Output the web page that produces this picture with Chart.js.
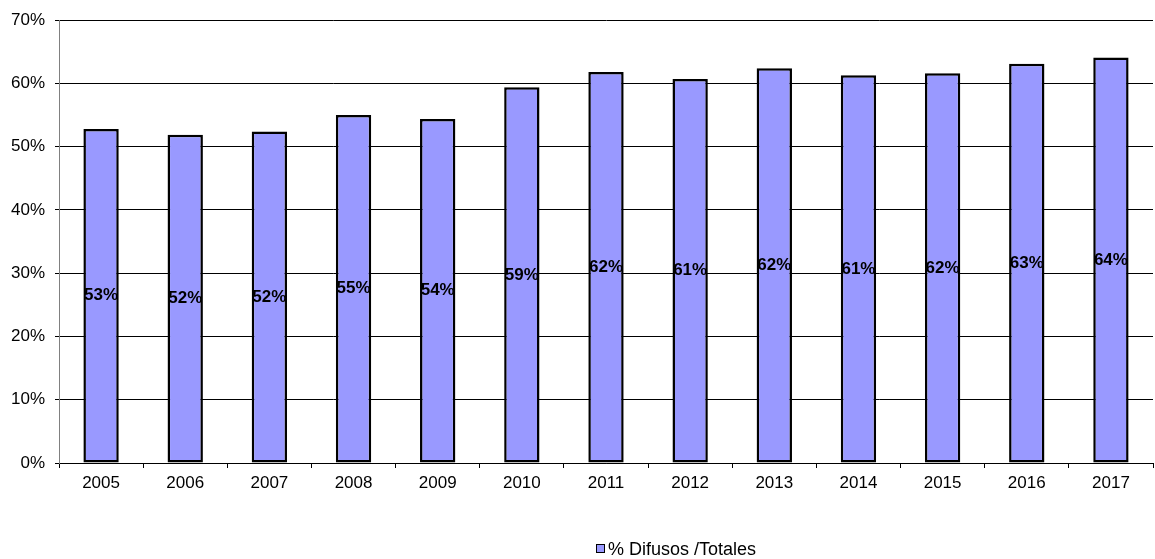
<!DOCTYPE html>
<html>
<head>
<meta charset="utf-8">
<script src="https://cdn.jsdelivr.net/npm/chart.js@4"></script>
<style>
  html, body { margin: 0; padding: 0; background: #fff; }
  #wrap { position: relative; width: 1155px; height: 559px; }
  #legend { position: absolute; left: 596px; top: 539px; font: 18px "Liberation Sans", Arial, sans-serif; color: #000; white-space: nowrap; }
  #legend span.box { display: inline-block; width: 7px; height: 7px; background: #9999ff; border: 1px solid #000; margin-right: 3px; vertical-align: 2px; }
</style>
</head>
<body>
<div id="wrap">
  <canvas id="chartDifusos" width="1155" height="559"></canvas>
  <div id="legend"><span class="box"></span>% Difusos /Totales</div>
</div>
<script>
const years = ['2005', '2006', '2007', '2008', '2009', '2010', '2011', '2012', '2013', '2014', '2015', '2016', '2017'];
const difusosTotales = [0.528, 0.519, 0.524, 0.550, 0.544, 0.594, 0.618, 0.607, 0.624, 0.613, 0.616, 0.631, 0.641];
const seriesLabel = '% Difusos /Totales';

const font = '"Liberation Sans", Arial, sans-serif';

// labels in the middle of each bar
const barLabels = {
  id: 'barLabels',
  afterDatasetsDraw(chart) {
    const { ctx } = chart;
    ctx.save();
    ctx.font = 'bold 17px ' + font;
    ctx.fillStyle = '#000';
    ctx.textAlign = 'center';
    ctx.textBaseline = 'middle';
    chart.getDatasetMeta(0).data.forEach((bar, i) => {
      const mid = (bar.y + bar.base) / 2;
      ctx.fillText(Math.round(difusosTotales[i] * 100) + '%', bar.x, mid);
    });
    ctx.restore();
  },
};

new Chart(document.getElementById('chartDifusos'), {
  type: 'bar',
  data: {
    labels: years,
    datasets: [{
      label: seriesLabel,
      data: difusosTotales,
      backgroundColor: '#9999ff',
      borderColor: '#000',
      borderWidth: 2.5,
      borderSkipped: false,
      barPercentage: 0.42,
      categoryPercentage: 1,
    }],
  },
  options: {
    responsive: false,
    animation: false,
    layout: { padding: { top: 18, right: 2, left: 0, bottom: 0 } },
    plugins: { legend: { display: false }, tooltip: { enabled: false } },
    scales: {
      x: {
        afterFit: (axis) => { axis.height = 96; },
        grid: { drawOnChartArea: false, drawTicks: true, tickLength: 5, color: '#000', offset: true },
        border: { color: '#000', width: 1 },
        ticks: { color: '#000', font: { family: font, size: 17 }, padding: 5 },
      },
      y: {
        min: 0,
        max: 0.7,
        afterFit: (axis) => { axis.width = 59; },
        grid: { color: '#000', tickLength: 4 },
        border: { color: '#808080', width: 1 },
        ticks: {
          stepSize: 0.1,
          color: '#000',
          font: { family: font, size: 17 },
          padding: 10,
          callback: (v) => Math.round(v * 100) + '%',
        },
      },
    },
  },
  plugins: [barLabels],
});
</script>
</body>
</html>
